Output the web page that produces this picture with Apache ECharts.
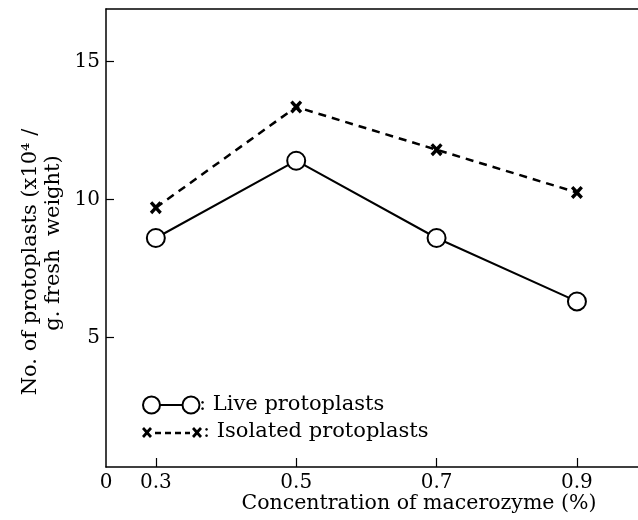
<!DOCTYPE html>
<html>
<head>
<meta charset="utf-8">
<script src="https://cdn.jsdelivr.net/npm/echarts@6/dist/echarts.min.js"></script>
<style>
  html, body { margin: 0; padding: 0; background: #fff; }
  #chart { width: 638px; height: 520px; }
</style>
</head>
<body>
<div id="chart"></div>
<script>
// concentration of macerozyme (%)
var concentrations = [0.3, 0.5, 0.7, 0.9];
// protoplasts (x10^4 / g fresh weight)
var liveValues = [8.6, 11.4, 8.6, 6.3];
var isolatedValues = [9.7, 13.35, 11.8, 10.25];
var xTicks = [0.3, 0.5, 0.7, 0.9];
var yTicks = [5, 10, 15];

var FONT = '"DejaVu Serif", serif';
var xMin = 0.229, xMax = 0.987;

function pairs(vals) {
    return concentrations.map(function(c, i) { return [c, vals[i]]; });
}

// bold "x" marker outline, 10 x 11 box
var crossPts = [[2,0],[5,3.2],[8,0],[10,2],[6.9,5.5],[10,9],[8,11],[5,7.8],[2,11],[0,9],[3.1,5.5],[0,2]];
var crossPath = 'path://M' + crossPts.map(function(p) { return p.join(','); }).join(' L') + ' Z';

var chart = echarts.init(document.getElementById('chart'));
chart.setOption({
    animation: false,
    grid: { left: 106, right: 0, top: 9, bottom: 53 },
    xAxis: [{
        type: 'value',
        min: xMin,
        max: xMax,
        axisLine: { lineStyle: { color: '#000', width: 1.5 } },
        axisTick: { inside: true, length: 9, customValues: xTicks, lineStyle: { color: '#000', width: 1.2 } },
        axisLabel: {
            customValues: [xMin].concat(xTicks),
            formatter: function(v) { return v < 0.25 ? '0' : v.toFixed(1); },
            color: '#000', fontFamily: FONT, fontSize: 20, margin: 6
        },
        splitLine: { show: false }
    }, {
        type: 'value',
        position: 'top',
        min: xMin,
        max: xMax,
        axisLine: { show: true, lineStyle: { color: '#000', width: 1.5 } },
        axisTick: { show: false },
        axisLabel: { show: false },
        splitLine: { show: false }
    }],
    yAxis: {
        type: 'value',
        min: 0.3,
        max: 16.9,
        axisLine: { show: true, lineStyle: { color: '#000', width: 1.5 } },
        axisTick: { inside: true, length: 8, customValues: yTicks, lineStyle: { color: '#000', width: 1.2 } },
        axisLabel: { customValues: yTicks, color: '#000', fontFamily: FONT, fontSize: 20, margin: 6 },
        splitLine: { show: false }
    },
    series: [{
        name: 'Live protoplasts',
        type: 'line',
        data: pairs(liveValues),
        symbol: 'circle',
        symbolSize: 18,
        itemStyle: { color: '#fff', borderColor: '#000', borderWidth: 2 },
        lineStyle: { color: '#000', width: 2 },
        z: 3
    }, {
        name: 'Isolated protoplasts',
        type: 'line',
        data: pairs(isolatedValues),
        symbol: crossPath,
        symbolSize: [12, 13],
        itemStyle: { color: '#000' },
        lineStyle: { color: '#000', width: 2.5, type: [8, 6] },
        z: 2
    }],
    graphic: [
        // y axis title
        { type: 'text', x: 31, y: 262, rotation: Math.PI / 2,
          style: { text: 'No. of protoplasts (x10⁴ /', font: '21px ' + FONT, fill: '#000', textAlign: 'center', textVerticalAlign: 'middle' } },
        { type: 'text', x: 54, y: 243, rotation: Math.PI / 2,
          style: { text: 'g. fresh  weight)', font: '21px ' + FONT, fill: '#000', textAlign: 'center', textVerticalAlign: 'middle' } },
        // x axis title
        { type: 'text', x: 419, y: 504,
          style: { text: 'Concentration of macerozyme (%)', font: '20.5px ' + FONT, fill: '#000', textAlign: 'center', textVerticalAlign: 'middle' } },
        // legend, row 1
        { type: 'circle', shape: { cx: 151.5, cy: 405, r: 8.5 }, style: { fill: '#fff', stroke: '#000', lineWidth: 2 } },
        { type: 'line', shape: { x1: 160, y1: 405, x2: 182, y2: 405 }, style: { stroke: '#000', lineWidth: 2 } },
        { type: 'circle', shape: { cx: 191, cy: 405, r: 8.5 }, style: { fill: '#fff', stroke: '#000', lineWidth: 2 } },
        { type: 'text', x: 199, y: 405,
          style: { text: ': Live protoplasts', font: '21px ' + FONT, fill: '#000', textVerticalAlign: 'middle' } },
        // legend, row 2
        { type: 'polygon', shape: { points: crossPts }, x: 142, y: 427, style: { fill: '#000' } },
        { type: 'line', shape: { x1: 155, y1: 433, x2: 190, y2: 433 }, style: { stroke: '#000', lineWidth: 2.5, lineDash: [6, 4] } },
        { type: 'polygon', shape: { points: crossPts }, x: 192, y: 427, style: { fill: '#000' } },
        { type: 'text', x: 203, y: 432,
          style: { text: ': Isolated protoplasts', font: '21px ' + FONT, fill: '#000', textVerticalAlign: 'middle' } }
    ]
});
window.addEventListener('resize', function() { chart.resize(); });
</script>
</body>
</html>
